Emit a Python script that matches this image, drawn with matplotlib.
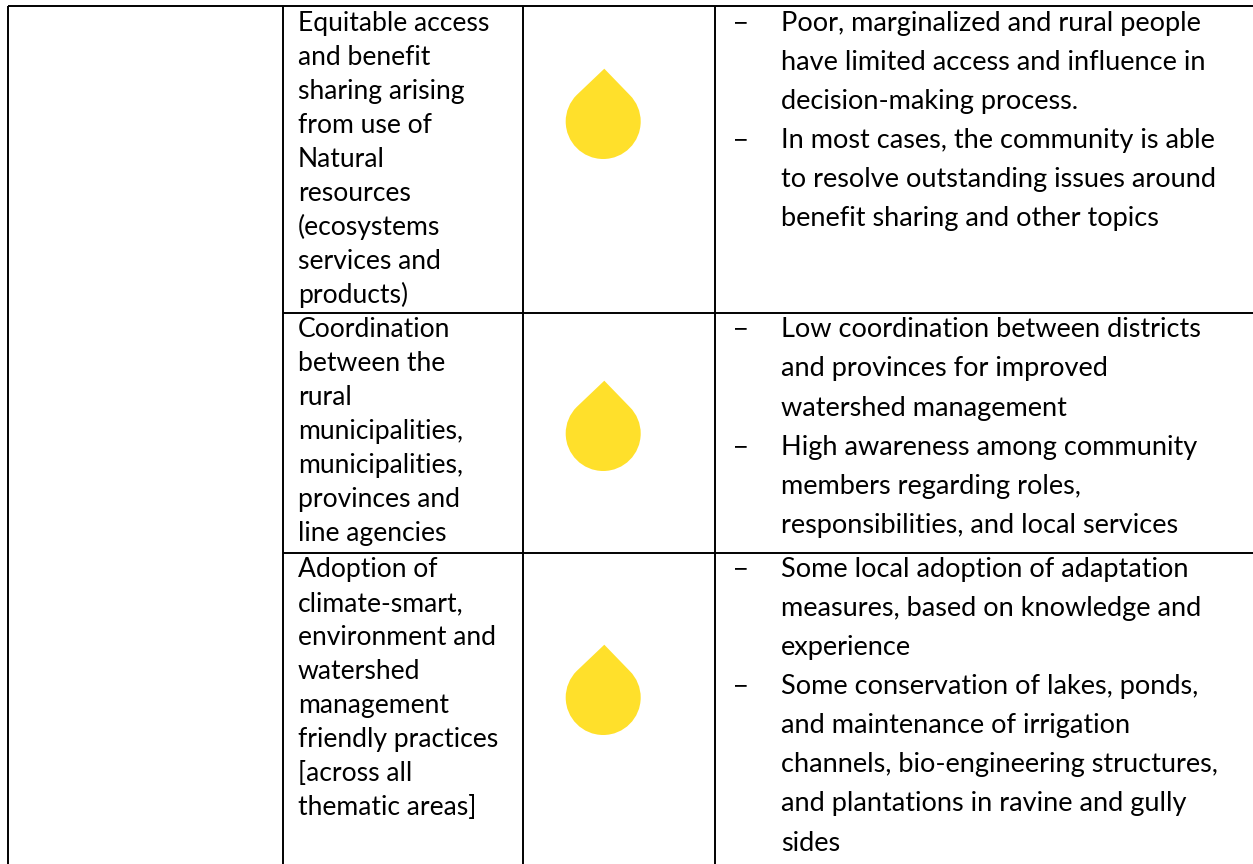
import matplotlib
matplotlib.use("Agg")
import matplotlib.pyplot as plt
from matplotlib.path import Path
from matplotlib.patches import PathPatch

W, H = 1253, 864

# table content
topics = [
    ["Equitable access", "and benefit", "sharing arising", "from use of", "Natural", "resources",
     "(ecosystems", "services and", "products)"],
    ["Coordination", "between the", "rural", "municipalities,", "municipalities,", "provinces and",
     "line agencies"],
    ["Adoption of", "climate-smart,", "environment and", "watershed", "management",
     "friendly practices", "[across all", "thematic areas]"],
]
ratings = ["yellow", "yellow", "yellow"]
notes = [
    [["Poor, marginalized and rural people", "have limited access and influence in",
      "decision-making process."],
     ["In most cases, the community is able", "to resolve outstanding issues around",
      "benefit sharing and other topics"]],
    [["Low coordination between districts", "and provinces for improved",
      "watershed management"],
     ["High awareness among community", "members regarding roles,",
      "responsibilities, and local services"]],
    [["Some local adoption of adaptation", "measures, based on knowledge and", "experience"],
     ["Some conservation of lakes, ponds,", "and maintenance of irrigation",
      "channels, bio-engineering structures,", "and plantations in ravine and gully", "sides"]],
]

# layout, in pixels of the picture
rating_colors = {"yellow": "#FFE02B"}
LEFT, COL1, COL2, COL3 = 7.5, 282.5, 523, 715
TOP = 5.5
ROW_LINES = [312.7, 552.7]
TOPIC_Y = [31, 337.3, 577.3]
TOPIC_STEP = 34
NOTE_Y = [
    [31, 70, 109, 148, 187, 226],
    [337, 376, 416, 455, 494, 533],
    [577, 616, 655, 694, 733, 772, 811, 851],
]
DROP_TIP_Y = [68.7, 380.7, 644.7]
TOPIC_FS = 19.1
NOTE_FS = 19.5
LW = 1.4

plt.rcParams['font.family'] = ['Lato', 'DejaVu Sans']

fig = plt.figure(figsize=(W / 100, H / 100), dpi=100)
ax = fig.add_axes([0, 0, 1, 1])
ax.set_xlim(0, W)
ax.set_ylim(H, 0)
ax.axis("off")

# borders
for x in [LEFT, COL1, COL2, COL3]:
    ax.plot([x, x], [TOP, H], color="black", lw=LW, solid_capstyle="butt")
ax.plot([LEFT, W], [TOP, TOP], color="black", lw=LW, solid_capstyle="butt")
for y in ROW_LINES:
    ax.plot([COL1, W], [y, y], color="black", lw=LW, solid_capstyle="butt")


def drop(tip_y, color):
    # circle with two 45 degree tangents meeting in the tip
    cx = 603.2
    tip_x = 604.3
    r = 37.5
    cy = tip_y + 52.8
    k = 0.5523 * r
    s = 0.7071 * r      # tangent point offset
    e = 0.2652 * r      # handle for an eighth of a circle
    h = 0.7071 * e
    verts = [(tip_x, tip_y), (cx - s, cy - s),
             (cx - s - h, cy - s + h), (cx - r, cy - e), (cx - r, cy),
             (cx - r, cy + k), (cx - k, cy + r), (cx, cy + r),
             (cx + k, cy + r), (cx + r, cy + k), (cx + r, cy),
             (cx + r, cy - e), (cx + s + h, cy - s + h), (cx + s, cy - s),
             (tip_x, tip_y)]
    codes = [Path.MOVETO, Path.LINETO,
             Path.CURVE4, Path.CURVE4, Path.CURVE4,
             Path.CURVE4, Path.CURVE4, Path.CURVE4,
             Path.CURVE4, Path.CURVE4, Path.CURVE4,
             Path.CURVE4, Path.CURVE4, Path.CURVE4,
             Path.LINETO]
    ax.add_patch(PathPatch(Path(verts, codes), facecolor=color, edgecolor="none"))


for rating, tip_y in zip(ratings, DROP_TIP_Y):
    drop(tip_y, rating_colors[rating])

for lines, y0 in zip(topics, TOPIC_Y):
    for i, line in enumerate(lines):
        ax.text(298, y0 + i * TOPIC_STEP, line, fontsize=TOPIC_FS, va="baseline", ha="left",
                color="black")

for bullets, ys in zip(notes, NOTE_Y):
    n = 0
    for bullet in bullets:
        ax.text(733, ys[n], "\u2212", fontsize=NOTE_FS, va="baseline", ha="left", color="black")
        for line in bullet:
            ax.text(781, ys[n], line, fontsize=NOTE_FS, va="baseline", ha="left", color="black")
            n += 1

fig.savefig("out.png", dpi=100)
